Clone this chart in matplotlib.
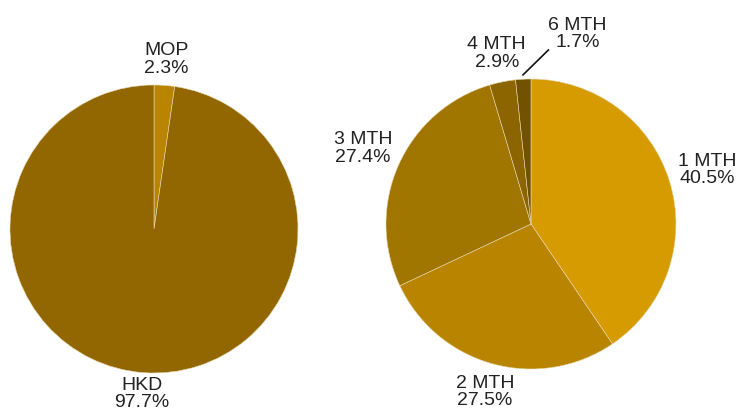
import matplotlib
matplotlib.use("Agg")
import matplotlib.pyplot as plt
import numpy as np

# currency split (left) and tenor split (right), in percent
ccy_labels = ["MOP", "HKD"]
ccy_values = [2.3, 97.7]
ccy_colors = ["#b98500", "#926600"]

tenor_labels = ["1 MTH", "2 MTH", "3 MTH", "4 MTH", "6 MTH"]
tenor_values = [40.5, 27.5, 27.4, 2.9, 1.7]
tenor_colors = ["#d69b00", "#b98500", "#a07500", "#8d6500", "#725200"]

plt.rcParams['font.family'] = ['Liberation Sans', 'DejaVu Sans']

W, H = 738, 418
fig = plt.figure(figsize=(W / 100, H / 100), dpi=100)


def pie_axes(cx, cy, r):
    # axes so that a unit pie has centre (cx, cy) and radius r in pixels
    return fig.add_axes([(cx - r) / W, (H - cy - r) / H, 2 * r / W, 2 * r / H])


def draw(ax, labels, values, colors, dists):
    wedges, _ = ax.pie(values, colors=colors, startangle=90, counterclock=False,
                       radius=1, wedgeprops=dict(edgecolor='#e8d8b0', linewidth=0.4))
    ax.set_xlim(-1, 1)
    ax.set_ylim(-1, 1)
    ax.set_aspect('equal')
    ax.axis('off')
    for w, lab, v, d in zip(wedges, labels, values, dists):
        if d is None:
            continue
        mid = np.deg2rad((w.theta1 + w.theta2) / 2)
        ax.text(d * np.cos(mid), d * np.sin(mid), f"{lab}\n{v}%",
                ha='center', va='center', fontsize=14, linespacing=1.05,
                color='#222222', clip_on=False)
    return wedges


ax1 = pie_axes(154, 229, 144)
draw(ax1, ccy_labels, ccy_values, ccy_colors, [1.18, 1.15])

ax2 = pie_axes(531, 224, 145)
wedges = draw(ax2, tenor_labels, tenor_values, tenor_colors,
              [1.27, 1.2, 1.27, 1.2, None])
# the smallest slice gets a leader line
w6 = wedges[-1]
mid = np.deg2rad((w6.theta1 + w6.theta2) / 2)
x0, y0 = 1.03 * np.cos(mid), 1.03 * np.sin(mid)
ax2.plot([x0, 0.12], [y0, 1.2], color='#111111', lw=1.2, clip_on=False)
ax2.text(0.32, 1.31, f"{tenor_labels[4]}\n{tenor_values[4]}%", ha='center', va='center',
         fontsize=14, linespacing=1.05, color='#222222', clip_on=False)

fig.savefig("out.png", dpi=100)
